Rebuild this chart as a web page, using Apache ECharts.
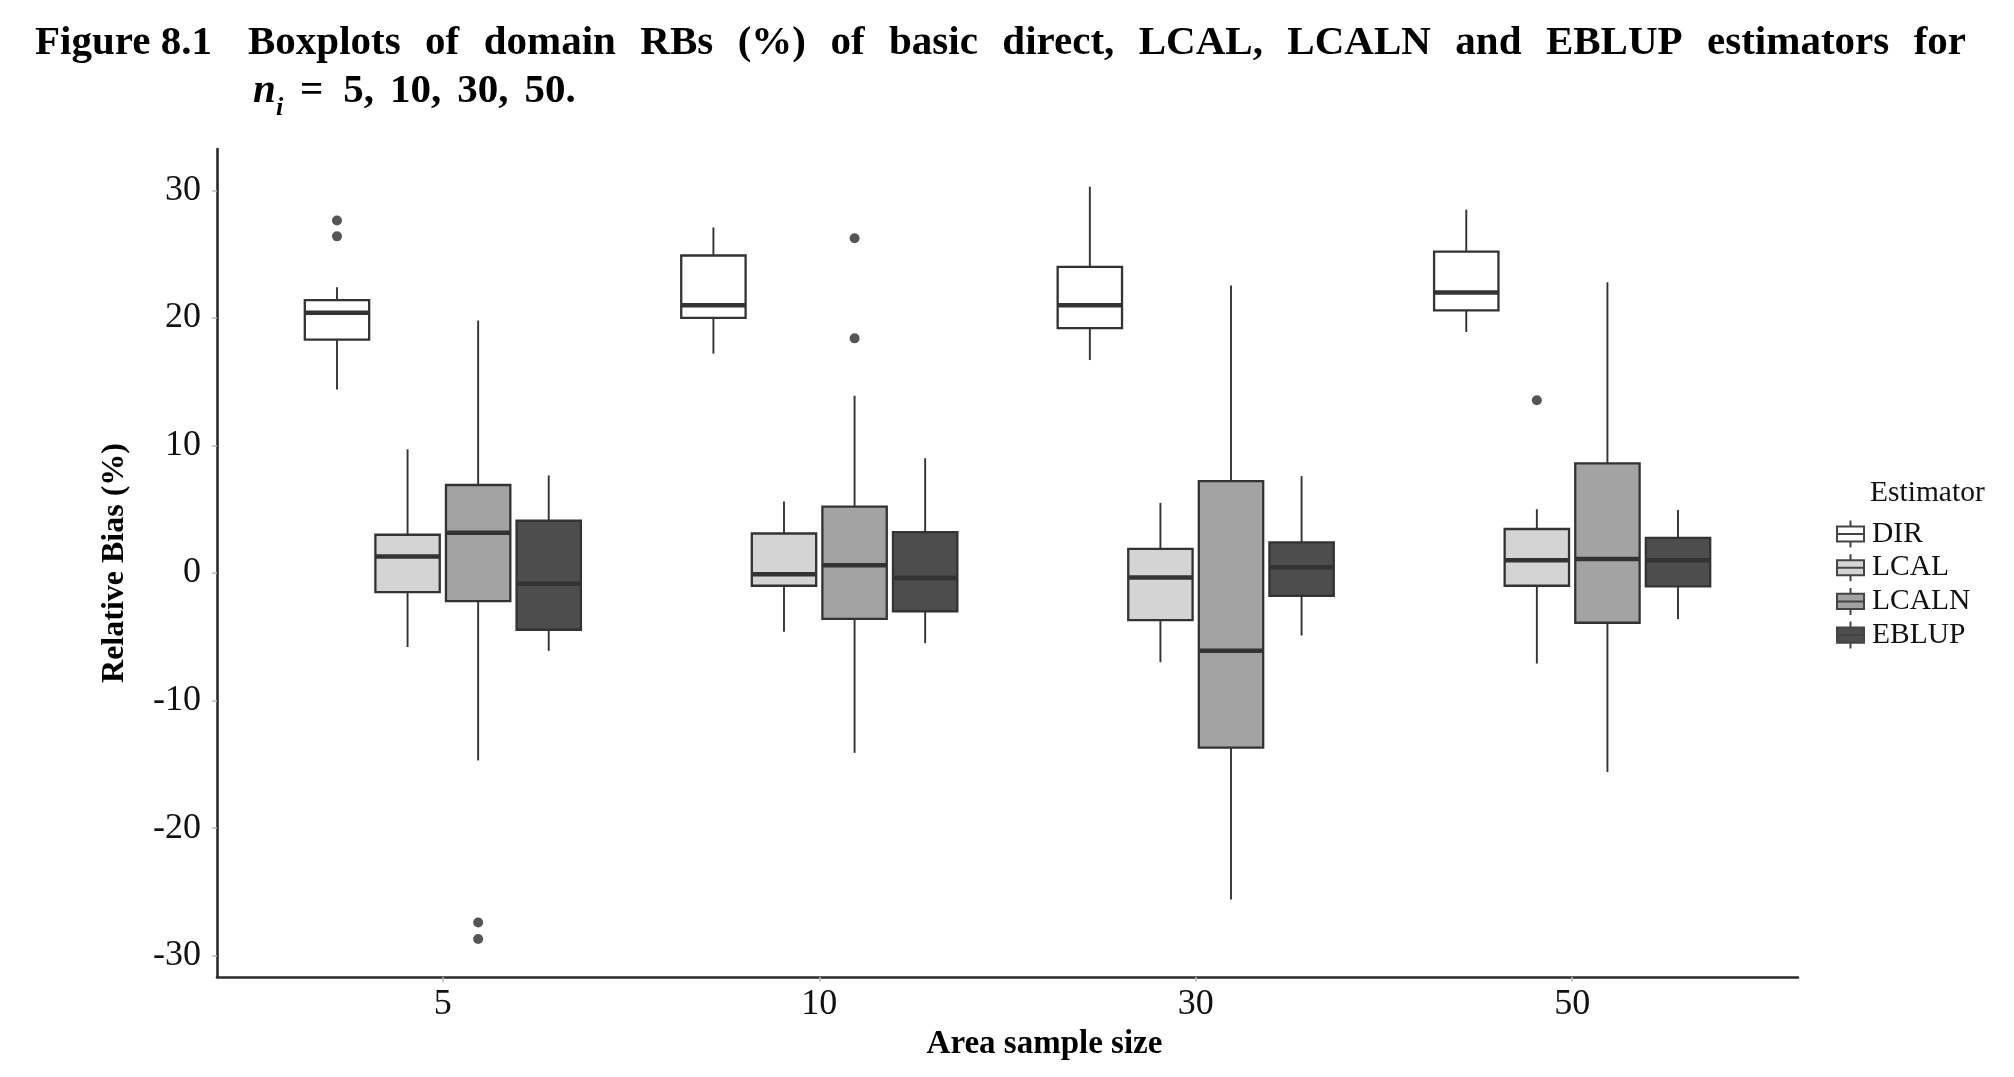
<!DOCTYPE html>
<html>
<head>
<meta charset="utf-8">
<title>Figure 8.1 boxplots</title>
<script src="https://cdn.jsdelivr.net/npm/echarts@6/dist/echarts.min.js"></script>
<style>
  html, body { margin: 0; padding: 0; background: #fff; }
  #chart { width: 2014px; height: 1077px; }
</style>
</head>
<body>
<div id="chart"></div>
<script>
// area sample sizes (x categories) and estimators (legend)
const sizes = ['5', '10', '30', '50'];
const estimators = ['DIR', 'LCAL', 'LCALN', 'EBLUP'];
const fills = ['#ffffff', '#d4d4d4', '#a3a3a3', '#4d4d4d'];

// [lower whisker, Q1, median, Q3, upper whisker], one row per sample size
const dirStats = [
  [14.4, 18.3, 20.4, 21.4, 22.4],
  [17.2, 20.0, 21.0, 24.9, 27.1],
  [16.7, 19.2, 21.0, 24.0, 30.3],
  [18.9, 20.6, 22.0, 25.2, 28.5]
];
const lcalStats = [
  [-5.8, -1.5, 1.3, 3.0, 9.7],
  [-4.6, -1.0, -0.1, 3.1, 5.6],
  [-7.0, -3.7, -0.35, 1.9, 5.5],
  [-7.1, -1.0, 1.0, 3.45, 5.0]
];
const lcalnStats = [
  [-14.7, -2.2, 3.15, 6.9, 19.8],
  [-14.1, -3.6, 0.6, 5.2, 13.9],
  [-25.6, -13.7, -6.1, 7.2, 22.55],
  [-15.6, -3.9, 1.1, 8.6, 22.8]
];
const eblupStats = [
  [-6.1, -4.45, -0.85, 4.1, 7.65],
  [-5.5, -3.0, -0.4, 3.2, 9.0],
  [-4.9, -1.8, 0.45, 2.4, 7.6],
  [-3.6, -1.05, 1.0, 2.75, 4.95]
];

// outliers: [sample size index, value]
const dirOutliers = [[0, 27.65], [0, 26.4]];
const lcalOutliers = [[3, 13.55]];
const lcalnOutliers = [[0, -27.4], [0, -28.7], [1, 26.25], [1, 18.4]];
const eblupOutliers = [];

const yTicks = [-30, -20, -10, 0, 10, 20, 30];

const titleLine1 = 'Figure 8.1  Boxplots of domain RBs (%) of basic direct, LCAL, LCALN and EBLUP estimators for';
const titleLine2 = ['=', '5,', '10,', '30,', '50.'];

const allStats = [dirStats, lcalStats, lcalnStats, eblupStats];
const allOutliers = [dirOutliers, lcalOutliers, lcalnOutliers, eblupOutliers];

const serif = '"Liberation Serif", "Times New Roman", serif';
const dodge = 0.1875;   // distance between boxes of one group (x units)
const halfBox = 0.0855;
const ink = '#333333';

// box + whiskers + median drawn through the axes
function boxRenderer(offset, fill) {
  return function (params, api) {
    const x = api.value(0) + offset;
    const lo = api.coord([x, api.value(1)]);
    const q1 = api.coord([x, api.value(2)]);
    const q3 = api.coord([x, api.value(4)]);
    const hi = api.coord([x, api.value(5)]);
    const tl = api.coord([x - halfBox, api.value(4)]);
    const br = api.coord([x + halfBox, api.value(2)]);
    const ml = api.coord([x - halfBox, api.value(3)]);
    const mr = api.coord([x + halfBox, api.value(3)]);
    return {
      type: 'group',
      children: [
        {type: 'line', shape: {x1: hi[0], y1: hi[1], x2: q3[0], y2: q3[1]}, style: {stroke: ink, lineWidth: 1.9}},
        {type: 'line', shape: {x1: lo[0], y1: lo[1], x2: q1[0], y2: q1[1]}, style: {stroke: ink, lineWidth: 1.9}},
        {type: 'rect', shape: {x: tl[0], y: tl[1], width: br[0] - tl[0], height: br[1] - tl[1]},
          style: {fill: fill, stroke: ink, lineWidth: 2.3}},
        {type: 'line', shape: {x1: ml[0], y1: ml[1], x2: mr[0], y2: mr[1]}, style: {stroke: ink, lineWidth: 4.5}}
      ]
    };
  };
}

const series = [];
estimators.forEach(function (name, k) {
  const offset = (k - 1.5) * dodge;
  series.push({
    name: name,
    type: 'custom',
    renderItem: boxRenderer(offset, fills[k]),
    itemStyle: {color: fills[k], borderColor: ink},
    encode: {x: 0, y: [1, 2, 3, 4, 5]},
    data: allStats[k].map(function (s, i) { return [i + 1].concat(s); }),
    z: 2
  });
});
estimators.forEach(function (name, k) {
  const offset = (k - 1.5) * dodge;
  series.push({
    name: name,
    type: 'scatter',
    symbol: 'circle',
    symbolSize: 10,
    itemStyle: {color: '#2a2a2a'},
    data: allOutliers[k].map(function (p) { return [p[0] + 1 + offset, p[1]]; }),
    z: 3
  });
});

// justified first title line, measured with a canvas
const measure = document.createElement('canvas').getContext('2d');
function textWidth(str, font) {
  measure.font = font;
  return measure.measureText(str).width;
}
const titleFont = 'bold 41px ' + serif;
const graphics = [];
const parts = titleLine1.split('  ');
graphics.push({type: 'text', left: 35, top: 23,
  style: {text: parts[0], font: titleFont, fill: '#000'}});
const words = parts[1].split(' ');
const wordW = words.map(function (w) { return textWidth(w, titleFont); });
const startX = 248, endX = 1966;
const gap = (endX - startX - wordW.reduce(function (a, b) { return a + b; }, 0)) / (words.length - 1);
let cx = startX;
words.forEach(function (w, i) {
  graphics.push({type: 'text', left: cx, top: 23, style: {text: w, font: titleFont, fill: '#000'}});
  cx += wordW[i] + gap;
});
// second line: n_i = 5, 10, 30, 50.
graphics.push({type: 'text', left: 253, top: 71,
  style: {text: 'n', font: 'italic bold 41px ' + serif, fill: '#000'}});
graphics.push({type: 'text', left: 276, top: 95,
  style: {text: 'i', font: 'italic bold 26px ' + serif, fill: '#000'}});
let lx = 300;
titleLine2.forEach(function (t, i) {
  graphics.push({type: 'text', left: lx, top: 71, style: {text: t, font: titleFont, fill: '#000'}});
  lx += textWidth(t, titleFont) + (i === 0 ? 20 : 16);
});
// legend heading
graphics.push({type: 'text', left: 1870, top: 478,
  style: {text: 'Estimator', font: '29.5px ' + serif, fill: '#111'}});

const legendIcon = 'path://M0,22 L100,22 L100,78 L0,78 Z M0,50 L100,50 M50,0 L50,22 M50,78 L50,100';

const chart = echarts.init(document.getElementById('chart'));
chart.setOption({
  animation: false,
  backgroundColor: '#ffffff',
  textStyle: {fontFamily: serif},
  grid: {left: 217, right: 216, top: 149, bottom: 100, containLabel: false},
  legend: {
    orient: 'vertical',
    left: 1831,
    top: 514,
    itemWidth: 27,
    itemHeight: 31,
    itemGap: 3.7,
    selectedMode: false,
    textStyle: {fontFamily: serif, fontSize: 29.5, color: '#111', padding: [0, 0, 0, 3]},
    data: estimators.map(function (name, k) {
      return {name: name, icon: legendIcon,
        itemStyle: {color: fills[k], borderColor: '#444', borderWidth: 2}};
    })
  },
  xAxis: {
    type: 'value',
    min: 0.4,
    max: 4.6,
    splitLine: {show: false},
    axisLine: {show: true, onZero: false, lineStyle: {color: '#2b2b2b', width: 2.6}},
    axisTick: {show: true, customValues: [1, 2, 3, 4], length: 5, lineStyle: {color: '#bbbbbb', width: 1.5}},
    axisLabel: {customValues: [1, 2, 3, 4], margin: 10, fontSize: 36, color: '#111', fontFamily: serif,
      formatter: function (v) { return sizes[Math.round(v) - 1]; }},
    name: 'Area sample size',
    nameLocation: 'middle',
    nameGap: 47,
    nameTextStyle: {fontFamily: serif, fontWeight: 'bold', fontSize: 33, color: '#000', padding: [0, 0, 0, 74]}
  },
  yAxis: {
    type: 'value',
    min: -31.68,
    max: 33.25,
    splitLine: {show: false},
    axisLine: {show: true, onZero: false, lineStyle: {color: '#2b2b2b', width: 2.6}},
    axisTick: {show: true, customValues: yTicks, length: 5, lineStyle: {color: '#bbbbbb', width: 1.5}},
    axisLabel: {customValues: yTicks, margin: 16, fontSize: 36, color: '#111', fontFamily: serif},
    name: 'Relative Bias (%)',
    nameLocation: 'middle',
    nameRotate: 90,
    nameGap: 86,
    nameTextStyle: {fontFamily: serif, fontWeight: 'bold', fontSize: 32, color: '#000'}
  },
  graphic: graphics,
  series: series
});
</script>
</body>
</html>
